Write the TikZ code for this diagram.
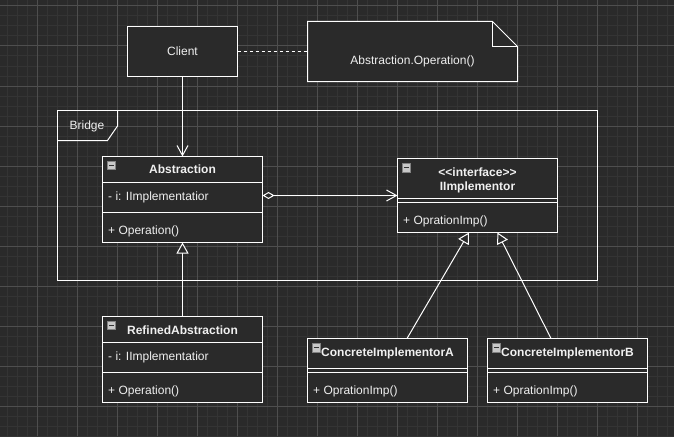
\documentclass[tikz,border=0pt]{standalone}
\usepackage{fontspec}
\setmainfont{Liberation Sans}
\usetikzlibrary{arrows.meta,calc}
\definecolor{bg}{RGB}{42,42,42}
\definecolor{gridminor}{RGB}{52,52,52}
\definecolor{gridmajor}{RGB}{78,78,78}
\definecolor{fg}{RGB}{240,240,240}
\definecolor{iconfill}{RGB}{200,200,200}
\definecolor{iconedge}{RGB}{130,130,130}
\newcommand{\umlicon}[2]{%
  \draw[iconedge,fill=iconfill,line width=0.6pt] (#1,#2) rectangle ++(8.5,8.5);
  \draw[black!80,line width=1.4pt] (#1+2,#2+4.25) -- ++(4.5,0);}
\begin{document}
\begin{tikzpicture}[x=1pt,y=-1pt,
  txt/.style={text=fg,inner sep=0pt,font=\fontsize{12}{14}\selectfont},
  ltxt/.style={txt,anchor=base west},
  ctxt/.style={txt,anchor=base},
  btxt/.style={txt,anchor=base,font=\fontsize{12}{14}\selectfont\bfseries},
  bltxt/.style={txt,anchor=base west,font=\fontsize{12}{14}\selectfont\bfseries},
  umlbox/.style={draw=white,fill=bg,line width=1pt,inner sep=0pt,outer sep=0pt,anchor=north west},
  sep/.style={draw=white,line width=1pt},
  conn/.style={draw=white,line width=1pt},
  openhead/.style={-{Straight Barb[length=10pt,width=11pt]}},
  inherit/.style={-{Triangle[open,length=11pt,width=12pt,fill=bg]}},
]
\fill[bg] (0,0) rectangle (674,436);
\useasboundingbox (0,0) rectangle (674,436);
% grid
\foreach \x in {7,17,...,667} \draw[gridminor,line width=1pt] (\x,0) -- (\x,436);
\foreach \y in {6,16,...,436} \draw[gridminor,line width=1pt] (0,\y) -- (674,\y);
\foreach \x in {37,77,...,637} \draw[gridmajor,line width=1pt] (\x,0) -- (\x,436);
\foreach \y in {6,46,...,406} \draw[gridmajor,line width=1pt] (0,\y) -- (674,\y);

% Bridge frame
\node[draw=white,line width=1pt,inner sep=0pt,outer sep=0pt,anchor=north west,
      minimum width=540,minimum height=170] (frame) at (57.5,110.5) {};
\draw[conn] (117.5,110.5) -- (117.5,126) -- (107.5,140.5) -- (57.5,140.5);
\node[ctxt] (bridgelbl) at (87,129.8) {Bridge};

% Client
\node[umlbox,minimum width=110,minimum height=50] (client) at (127.5,26.5) {};
\node[ctxt] (clienttxt) at (182.5,55.8) {Client};

% Note
\draw[conn,fill=bg] (307.5,21.5) -- (492.5,21.5) -- (517.5,46.5) -- (517.5,81.5) -- (307.5,81.5) -- cycle;
\draw[conn] (492.5,21.5) -- (492.5,46.5) -- (517.5,46.5);
\node[inner sep=0pt,outer sep=0pt,minimum width=210,minimum height=60,anchor=north west] (note) at (307.5,21.5) {};
\node[ctxt] (notetxt) at (412.5,64.3) {Abstraction.Operation()};
\draw[conn,dash pattern=on 3pt off 3pt] (client.east) -- (client.east -| note.west);

% Abstraction
\node[umlbox,minimum width=160,minimum height=86] (abs) at (102.5,156.5) {};
\draw[sep] (102.5,182.5) -- (262.5,182.5);
\draw[sep] (102.5,212.5) -- (262.5,212.5);
\umlicon{107}{161}
\node[btxt] (abstitle) at (182.5,173.7) {Abstraction};
\node[ltxt] (absattr) at (108,200.3) {- i: IImplementatior};
\node[ltxt] (absop) at (108,234) {+ Operation()};

% IImplementor
\node[umlbox,minimum width=160,minimum height=74] (impl) at (397.5,158.5) {};
\draw[sep] (397.5,198.5) -- (557.5,198.5);
\draw[sep] (397.5,202.5) -- (557.5,202.5);
\umlicon{402}{163.5}
\node[btxt] (implst) at (477.5,176.3) {<\kern0pt<interface>\kern0pt>};
\node[btxt] (implname) at (477.5,190.3) {IImplementor};
\node[ltxt] (implop) at (403,224.5) {+ OprationImp()};

% RefinedAbstraction
\node[umlbox,minimum width=160,minimum height=86] (ref) at (102.5,316.5) {};
\draw[sep] (102.5,342.5) -- (262.5,342.5);
\draw[sep] (102.5,372.5) -- (262.5,372.5);
\umlicon{107}{321}
\node[btxt] (reftitle) at (182.5,334) {RefinedAbstraction};
\node[ltxt] (refattr) at (108,360) {- i: IImplementatior};
\node[ltxt] (refop) at (108,394) {+ Operation()};

% ConcreteImplementorA
\node[umlbox,minimum width=160,minimum height=64] (concA) at (307.5,338.5) {};
\draw[sep] (307.5,368.5) -- (467.5,368.5);
\draw[sep] (307.5,372) -- (467.5,372);
\umlicon{312}{343.5}
\node[bltxt] (concAtitle) at (321,356.3) {ConcreteImplementorA};
\node[ltxt] (concAop) at (313,394.5) {+ OprationImp()};

% ConcreteImplementorB
\node[umlbox,minimum width=160,minimum height=64] (concB) at (487.5,338.5) {};
\draw[sep] (487.5,368.5) -- (647.5,368.5);
\draw[sep] (487.5,372) -- (647.5,372);
\umlicon{492}{343.5}
\node[bltxt] (concBtitle) at (501,356.3) {ConcreteImplementorB};
\node[ltxt] (concBop) at (493,394.5) {+ OprationImp()};

% connectors
\draw[conn,openhead] (client.south) -- (client.south |- abs.north);
\draw[conn,inherit] (ref.north) -- (abs.south);
\coordinate (aggstart) at ($(abs.north east)+(0,39)$);
\draw[conn,{Diamond[fill=bg,length=12pt,width=7pt]}-{Straight Barb[length=10pt,width=11pt]}] (aggstart) -- (aggstart -| impl.west);
\draw[conn,inherit] ($(concA.north)+(19.5,0)$) -- ($(impl.south)+(-8.5,0)$);
\draw[conn,inherit] ($(concB.north)+(-16.5,0)$) -- ($(impl.south)+(20,0)$);
\end{tikzpicture}
\end{document}
